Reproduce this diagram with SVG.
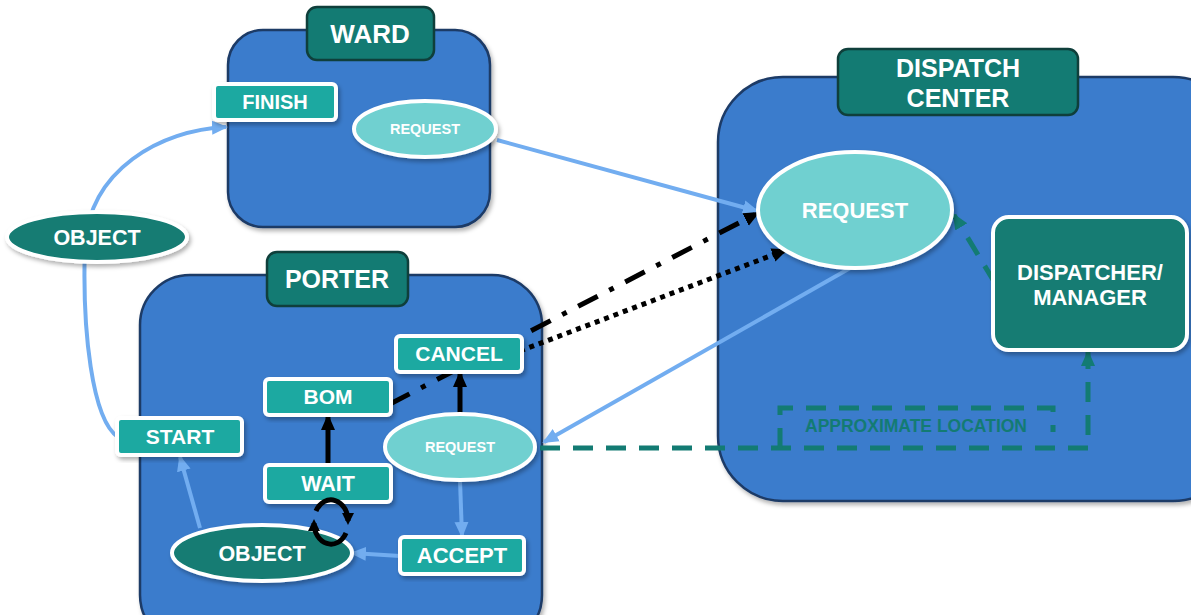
<svg xmlns="http://www.w3.org/2000/svg" width="1191" height="615" viewBox="0 0 1191 615">
<style>
.cont{fill:#3b7bcc;stroke:#1d3a66;stroke-width:2.5}
.lbl{fill:#137b73;stroke:#0f3f3b;stroke-width:2.5}
.box{fill:#1fa9a1;stroke:#ffffff;stroke-width:4}
.lt{fill:#6fd0d0;stroke:#ffffff;stroke-width:4}
.dk{fill:#137b73;stroke:#ffffff;stroke-width:4}
text{font-family:"Liberation Sans",Arial,sans-serif;font-weight:bold;fill:#ffffff;text-anchor:middle}
.blue{fill:none;stroke:#72adf0;stroke-width:4}
.blk{fill:none;stroke:#000000;stroke-width:5}
.teal{fill:none;stroke:#137b73;stroke-width:5;stroke-dasharray:20 13}
.sh{filter:url(#sh)}
</style>
<defs>
<filter id="sh" x="-10%" y="-10%" width="130%" height="130%">
<feDropShadow dx="2" dy="3" stdDeviation="2" flood-color="#000" flood-opacity="0.3"/>
</filter>
<marker id="ab" markerUnits="userSpaceOnUse" markerWidth="16" markerHeight="16" refX="14" refY="8" orient="auto">
<path d="M0,1 L16,8 L0,15 Z" fill="#72adf0"/>
</marker>
<marker id="ak" markerUnits="userSpaceOnUse" markerWidth="16" markerHeight="16" refX="14" refY="8" orient="auto">
<path d="M0,1 L16,8 L0,15 Z" fill="#000000"/>
</marker>
<marker id="ak2" markerUnits="userSpaceOnUse" markerWidth="12" markerHeight="12" refX="8" refY="6" orient="auto">
<path d="M0,0 L12,6 L0,12 Z" fill="#000000"/>
</marker>
<marker id="at" markerUnits="userSpaceOnUse" markerWidth="16" markerHeight="16" refX="14" refY="8" orient="auto">
<path d="M0,1 L16,8 L0,15 Z" fill="#137b73"/>
</marker>
</defs>

<g id="ward">
<rect class="cont sh" x="228" y="30" width="262" height="197" rx="35"/>
<rect class="lbl" x="307" y="7" width="127" height="53" rx="10"/>
<text x="370" y="43" font-size="26">WARD</text>
</g>
<g id="porter">
<rect class="cont sh" x="140" y="275" width="402" height="370" rx="50"/>
<rect class="lbl" x="267" y="252" width="141" height="54" rx="10"/>
<text x="337" y="288" font-size="25">PORTER</text>
</g>
<g id="dispatch-center">
<rect class="cont sh" x="718" y="77" width="520" height="424" rx="65"/>
<rect class="lbl" x="838" y="49" width="240" height="66" rx="10"/>
<text x="958" y="77" font-size="25">DISPATCH</text>
<text x="958" y="107" font-size="25">CENTER</text>
</g>

<g id="connectors">
<path class="blue" d="M118,437 C92,420 82,330 85,245 C90,170 160,130 226,127" marker-end="url(#ab)"/>
<line class="blue" x1="497" y1="140" x2="757" y2="211" marker-end="url(#ab)"/>
<line class="blue" x1="852" y1="267" x2="544" y2="442" marker-end="url(#ab)"/>
<line class="blk" x1="390" y1="404" x2="758" y2="213" stroke-dasharray="22 13 5 13" marker-end="url(#ak)"/>
<line class="blk" x1="520" y1="351" x2="786" y2="250" stroke-dasharray="5 5" marker-end="url(#ak)"/>
<polyline class="teal" points="540,448 1088,448 1088,352" marker-end="url(#at)"/>
<line class="teal" x1="995" y1="283" x2="954" y2="215" marker-end="url(#at)"/>
<polyline fill="none" stroke="#137b73" stroke-width="5" stroke-dasharray="20 13" points="780,448 780,408 1053,408 1053,432"/>
<line class="blue" x1="200" y1="528" x2="180" y2="457" marker-end="url(#ab)"/>
<line class="blue" x1="400" y1="556" x2="352" y2="553" marker-end="url(#ab)"/>
<line class="blue" x1="460" y1="480" x2="462" y2="536" marker-end="url(#ab)"/>
<line class="blk" x1="328" y1="465" x2="328" y2="416" marker-end="url(#ak)"/>
<line class="blk" x1="460" y1="414" x2="460" y2="373" marker-end="url(#ak)"/>
</g>

<g id="finish"><rect class="box sh" x="214" y="84" width="122" height="36" rx="4"/><text x="275" y="109" font-size="20">FINISH</text></g>
<g id="ward-request"><ellipse class="lt sh" cx="425" cy="129" rx="71" ry="28"/><text x="425" y="134" font-size="14.5">REQUEST</text></g>
<g id="object-top"><ellipse class="dk sh" cx="97" cy="237" rx="90" ry="25"/><text x="97" y="245" font-size="21.5">OBJECT</text></g>
<g id="dc-request"><ellipse class="lt sh" cx="855" cy="210" rx="97" ry="58"/><text x="855" y="218" font-size="22">REQUEST</text></g>
<g id="dispatcher"><rect class="dk sh" x="993" y="217" width="194" height="133" rx="16"/><text x="1090" y="280" font-size="22">DISPATCHER/</text><text x="1090" y="305" font-size="22">MANAGER</text></g>
<g id="approx-location"><text x="916" y="432" font-size="17.5" style="fill:#137b73">APPROXIMATE LOCATION</text></g>
<g id="cancel"><rect class="box sh" x="396" y="336" width="126" height="36" rx="4"/><text x="459" y="361" font-size="21">CANCEL</text></g>
<g id="bom"><rect class="box sh" x="265" y="379" width="126" height="36" rx="4"/><text x="328" y="404" font-size="21">BOM</text></g>
<g id="start"><rect class="box sh" x="117" y="418" width="125" height="37" rx="4"/><text x="180" y="444" font-size="21">START</text></g>
<g id="porter-request"><ellipse class="lt sh" cx="460" cy="447" rx="75" ry="33"/><text x="460" y="452" font-size="14.5">REQUEST</text></g>
<g id="wait"><rect class="box sh" x="265" y="465" width="126" height="37" rx="4"/><text x="328" y="491" font-size="21.5">WAIT</text></g>
<g id="object-porter"><ellipse class="dk sh" cx="262" cy="553" rx="90" ry="28"/><text x="262" y="561" font-size="21.5">OBJECT</text></g>
<g id="accept"><rect class="box sh" x="400" y="537" width="124" height="37" rx="4"/><text x="462" y="563" font-size="22">ACCEPT</text></g>

<g id="connectors-loop">
<path class="blk" stroke-width="6" d="M316,511 A17,21 0 0 1 348,521" marker-end="url(#ak2)"/>
<path class="blk" stroke-width="6" d="M346,533 A17,21 0 0 1 314,523" marker-end="url(#ak2)"/>
</g>
</svg>
